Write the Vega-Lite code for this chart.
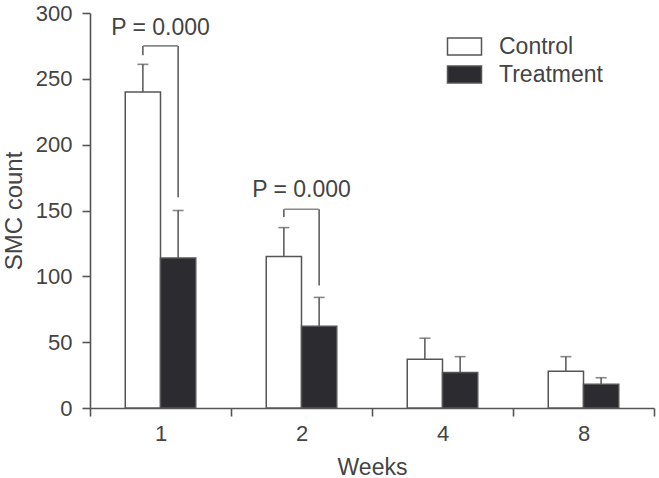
{
  "$schema": "https://vega.github.io/schema/vega-lite/v6.json",
  "autosize": "none",
  "width": 564,
  "height": 395,
  "padding": {"left": 90, "top": 13, "right": 5, "bottom": 70},
  "background": "white",
  "config": {
    "font": "Liberation Sans",
    "view": {"stroke": null},
    "axis": {"domainColor": "#555", "domainWidth": 1.6, "tickColor": "#555", "tickWidth": 1.6, "labelColor": "#444", "titleColor": "#444", "labelFont": "Liberation Sans", "titleFont": "Liberation Sans", "titleFontWeight": "normal", "grid": false}
  },
  "datasets": {
    "bars": [
      {"Weeks": "1", "Group": "Control", "mean": 240, "upper": 261},
      {"Weeks": "1", "Group": "Treatment", "mean": 114, "upper": 150},
      {"Weeks": "2", "Group": "Control", "mean": 115, "upper": 137},
      {"Weeks": "2", "Group": "Treatment", "mean": 62, "upper": 84},
      {"Weeks": "4", "Group": "Control", "mean": 37, "upper": 53},
      {"Weeks": "4", "Group": "Treatment", "mean": 27, "upper": 39},
      {"Weeks": "8", "Group": "Control", "mean": 28, "upper": 39},
      {"Weeks": "8", "Group": "Treatment", "mean": 18, "upper": 23}
    ],
    "legs": [
      {"Weeks": "1", "Group": "Control", "y1": 268, "y2": 275},
      {"Weeks": "1", "Group": "Treatment", "y1": 160, "y2": 275},
      {"Weeks": "2", "Group": "Control", "y1": 145, "y2": 151},
      {"Weeks": "2", "Group": "Treatment", "y1": 93, "y2": 151}
    ],
    "brackets": [
      {"Weeks": "1", "y": 275, "label_y": 283, "label": "P = 0.000"},
      {"Weeks": "2", "y": 151, "label_y": 160, "label": "P = 0.000"}
    ]
  },
  "encoding": {
    "x": {
      "field": "Weeks", "type": "nominal", "sort": ["1", "2", "4", "8"],
      "scale": {"paddingInner": 0, "paddingOuter": 0},
      "axis": {"labelAngle": 0, "labelFontSize": 22, "tickBand": "extent", "tickSize": 8, "labelPadding": 7, "titleFontSize": 23, "titlePadding": 12, "title": "Weeks"}
    }
  },
  "layer": [
    {
      "data": {"name": "bars"},
      "mark": {"type": "bar", "stroke": "#555", "strokeWidth": 1.5},
      "encoding": {
        "xOffset": {"field": "Group", "type": "nominal", "scale": {"paddingInner": 0, "paddingOuter": 1.04}},
        "y": {"field": "mean", "type": "quantitative", "scale": {"domain": [0, 300]},
          "axis": {"values": [0, 50, 100, 150, 200, 250, 300], "labelFontSize": 22, "tickSize": 8, "labelPadding": 10, "title": "SMC count", "titleFontSize": 24, "titlePadding": 9}},
        "fill": {"field": "Group", "type": "nominal",
          "scale": {"domain": ["Control", "Treatment"], "range": ["#ffffff", "#2b2b30"]},
          "legend": {"title": null, "orient": "none", "legendX": 354, "legendY": 22, "padding": 0,
            "symbolType": "M-2,-1H2V1H-2Z", "symbolSize": 289, "symbolStrokeColor": "#555", "symbolStrokeWidth": 1.5,
            "labelFontSize": 23, "labelColor": "#444", "labelFont": "Liberation Sans", "labelOffset": 23, "rowPadding": 4, "symbolOffset": 9}}
      }
    },
    {
      "data": {"name": "bars"},
      "mark": {"type": "rule", "color": "#555", "strokeWidth": 1.5},
      "encoding": {
        "xOffset": {"field": "Group", "type": "nominal"},
        "y": {"field": "mean", "type": "quantitative"},
        "y2": {"field": "upper"}
      }
    },
    {
      "data": {"name": "bars"},
      "mark": {"type": "tick", "color": "#555", "thickness": 1.6, "size": 11},
      "encoding": {
        "xOffset": {"field": "Group", "type": "nominal"},
        "y": {"field": "upper", "type": "quantitative"}
      }
    },
    {
      "data": {"name": "legs"},
      "mark": {"type": "rule", "color": "#555", "strokeWidth": 1.5},
      "encoding": {
        "xOffset": {"field": "Group", "type": "nominal"},
        "y": {"field": "y1", "type": "quantitative"},
        "y2": {"field": "y2"}
      }
    },
    {
      "data": {"name": "brackets"},
      "mark": {"type": "tick", "color": "#555", "thickness": 1.6, "size": 34.5},
      "encoding": {
        "y": {"field": "y", "type": "quantitative"}
      }
    },
    {
      "data": {"name": "brackets"},
      "mark": {"type": "text", "fontSize": 23, "color": "#444", "baseline": "alphabetic", "align": "center", "font": "Liberation Sans"},
      "encoding": {
        "y": {"field": "label_y", "type": "quantitative"},
        "text": {"field": "label"}
      }
    }
  ]
}
